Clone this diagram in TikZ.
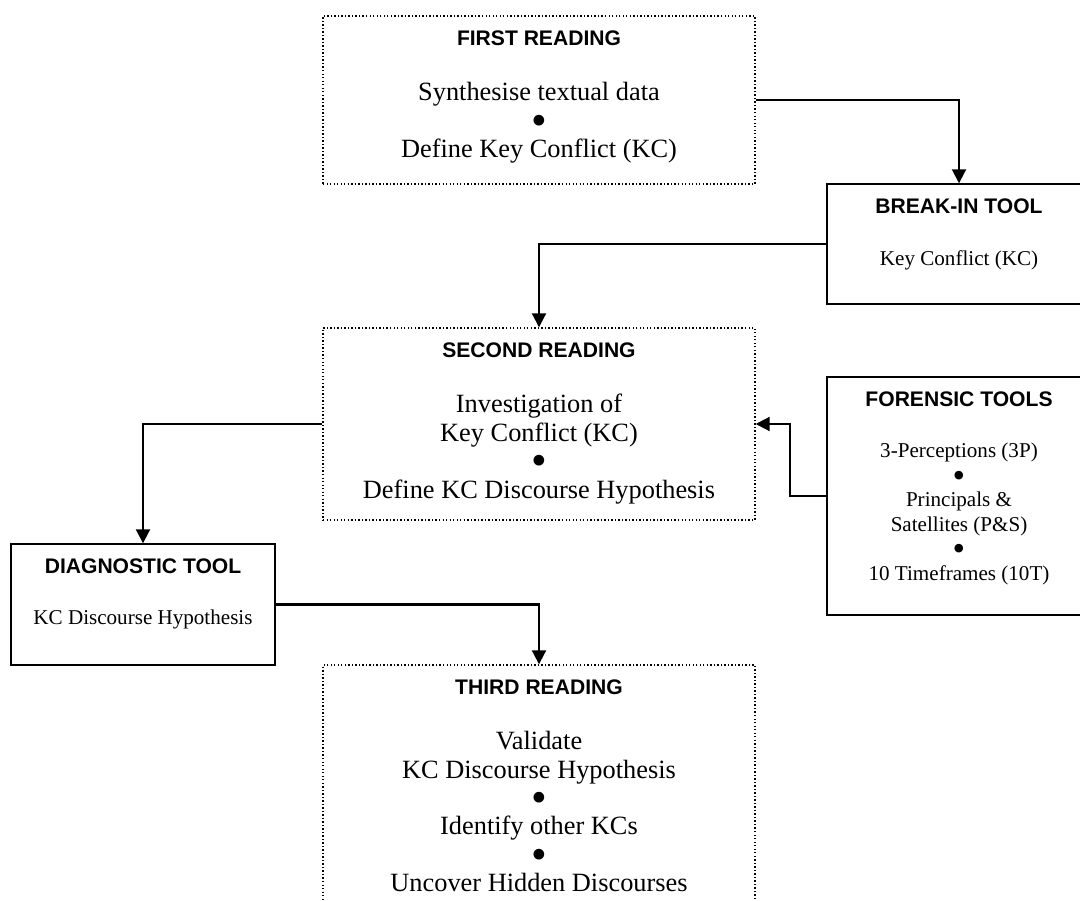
\documentclass[tikz,border=0pt]{standalone}
\usepackage{fontspec}
\setmainfont{Liberation Serif}
\newfontfamily\headfont{Liberation Sans}
\usepackage{tikz}
\usetikzlibrary{arrows.meta,positioning}

\newcommand\tkbullet{\smash{\raisebox{-0.23em}{\scalebox{1.7}{\textbullet}}}}

\tikzset{
  reading/.style={draw, line width=0.8pt, dash pattern=on 0.8pt off 1.2pt,
    minimum width=86.4mm, inner sep=0pt},
  toolbox/.style={draw, line width=0.8pt, minimum width=52.8mm, inner sep=0pt},
  boxhead/.style={inner sep=0pt, font=\headfont\bfseries\fontsize{12}{14}\selectfont},
  readtext/.style={inner sep=0pt, align=center, font=\fontsize{15}{16.2}\selectfont},
  tooltext/.style={inner sep=0pt, align=center, font=\fontsize{12}{13.9}\selectfont},
  flow/.style={line width=1.15pt, -{Triangle[length=2.8mm,width=2.8mm]}}
}

\begin{document}
\begin{tikzpicture}[x=0.2mm,y=-0.2mm]
  \useasboundingbox (0,0) rectangle (1080,901);
  % readings (dotted)
  \node[reading, minimum height=33.6mm] (read1) at (539,100) {};
  \node[boxhead, below=3mm of read1.north] (read1h) {FIRST READING};
  \node[readtext, below=7.2mm of read1h] (read1b)
    {Synthesise textual data\\\tkbullet\\Define Key Conflict (KC)};

  \node[reading, minimum height=38.4mm] (read2) at (539,424) {};
  \node[boxhead, below=3mm of read2.north] (read2h) {SECOND READING};
  \node[readtext, below=7.2mm of read2h] (read2b)
    {Investigation of\\Key Conflict (KC)\\\tkbullet\\Define KC Discourse Hypothesis};

  \node[reading, minimum height=49mm] (read3) at (539,787.5) {};
  \node[boxhead, below=3mm of read3.north] (read3h) {THIRD READING};
  \node[readtext, below=7.2mm of read3h] (read3b)
    {Validate\\KC Discourse Hypothesis\\\tkbullet\\Identify other KCs\\\tkbullet\\Uncover Hidden Discourses};

  % tools (solid)
  \node[toolbox, minimum height=24mm] (brk) at (959,244) {};
  \node[boxhead, below=3mm of brk.north] (brkh) {BREAK-IN TOOL};
  \node[tooltext, below=7.2mm of brkh] (brkb) {Key Conflict (KC)};

  \node[toolbox, minimum height=47.6mm] (frn) at (959,496) {};
  \node[boxhead, below=3mm of frn.north] (frnh) {FORENSIC TOOLS};
  \node[tooltext, below=7.2mm of frnh] (frnb)
    {3-Perceptions (3P)\\\tkbullet\\Principals \&\\Satellites (P\&S)\\\tkbullet\\10 Timeframes (10T)};

  \node[toolbox, minimum height=24.2mm] (diag) at (143,604.5) {};
  \node[boxhead, below=3mm of diag.north] (diagh) {DIAGNOSTIC TOOL};
  \node[tooltext, below=7.2mm of diagh] (diagb) {KC Discourse Hypothesis};

  % connectors
  \draw[flow] (read1.east) -| (brk.north);
  \draw[flow] (brk.west) -| (read2.north);
  \draw[flow] (frn.west) -- ++(-36,0) |- (read2.east);
  \draw[flow] (read2.west) -| (diag.north);
  \draw[flow] (diag.east) -| (read3.north);
\end{tikzpicture}
\end{document}
